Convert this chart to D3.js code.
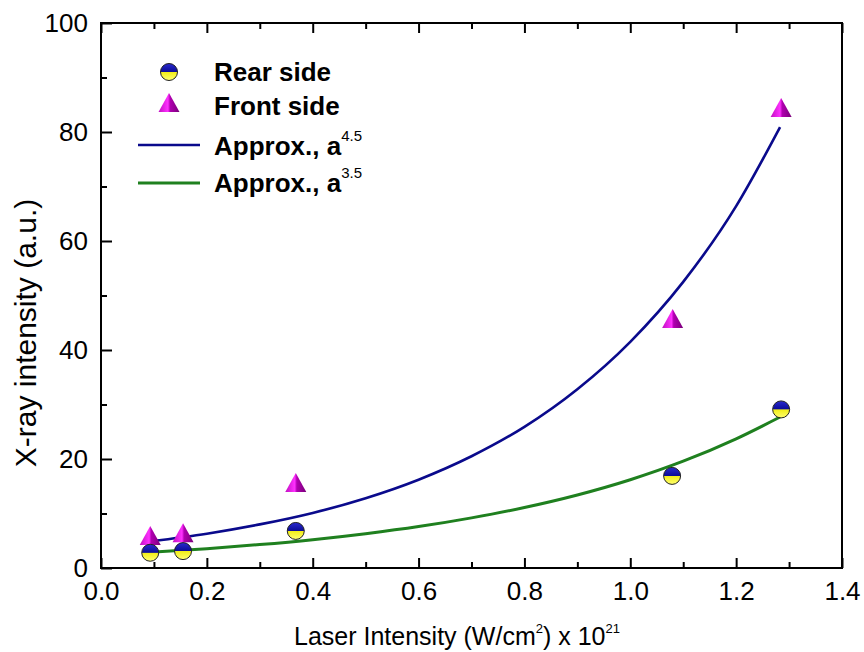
<!DOCTYPE html>
<html>
<head>
<meta charset="utf-8">
<script src="https://cdn.jsdelivr.net/npm/d3@7"></script>
<style>
  body { margin: 0; background: #fff; }
  svg { display: block; font-family: "Liberation Sans", Arial, sans-serif; }
  .tick text { font-size: 26px; fill: #000; }
  .tick line { stroke: #000; stroke-width: 2; }
</style>
</head>
<body>
<div id="chart"></div>
<script>
// measured points
const rearX = [0.093, 0.155, 0.368, 1.079, 1.285];
const rearY = [2.8, 3.1, 6.8, 16.9, 29.1];
const frontX = [0.093, 0.155, 0.368, 1.080, 1.285];
const frontY = [5.7, 6.2, 15.4, 45.5, 84.2];

// fitted curves
const fit45X = [0.093, 0.2, 0.3, 0.4, 0.5, 0.6, 0.7, 0.8, 0.9, 1.0, 1.1, 1.2, 1.283];
const fit45Y = [4.9, 6.3, 8.0, 10.1, 12.8, 16.2, 20.5, 25.9, 32.8, 41.5, 52.5, 66.4, 80.9];
const fit35X = [0.093, 0.2, 0.3, 0.4, 0.5, 0.6, 0.7, 0.8, 0.9, 1.0, 1.1, 1.2, 1.283];
const fit35Y = [2.9, 3.55, 4.3, 5.2, 6.3, 7.6, 9.2, 11.1, 13.4, 16.2, 19.6, 23.7, 27.7];

const xTicks = [0, 0.2, 0.4, 0.6, 0.8, 1.0, 1.2, 1.4];
const xMinor = [0.1, 0.3, 0.5, 0.7, 0.9, 1.1, 1.3];
const yTicks = [0, 20, 40, 60, 80, 100];
const yMinor = [10, 30, 50, 70, 90];

const W = 864, H = 652;
const margin = {top: 23, right: 22, bottom: 84, left: 101};
const w = W - margin.left - margin.right;
const h = H - margin.top - margin.bottom;

const svg = d3.select("#chart").append("svg")
  .attr("width", W)
  .attr("height", H);

const defs = svg.append("defs");
let gc = defs.append("linearGradient").attr("id", "halfball")
  .attr("x1", 0).attr("y1", 0).attr("x2", 0).attr("y2", 1);
gc.append("stop").attr("offset", "0%").attr("stop-color", "#2a2ad0");
gc.append("stop").attr("offset", "48%").attr("stop-color", "#0c0c98");
gc.append("stop").attr("offset", "52%").attr("stop-color", "#f2ee1a");
gc.append("stop").attr("offset", "100%").attr("stop-color", "#ffff70");

let gt = defs.append("linearGradient").attr("id", "pyramid")
  .attr("x1", 0).attr("y1", 0).attr("x2", 1).attr("y2", 0);
gt.append("stop").attr("offset", "0%").attr("stop-color", "#c010c0");
gt.append("stop").attr("offset", "45%").attr("stop-color", "#ff30ff");
gt.append("stop").attr("offset", "55%").attr("stop-color", "#b000b0");
gt.append("stop").attr("offset", "100%").attr("stop-color", "#7a007a");

const g = svg.append("g").attr("transform", `translate(${margin.left},${margin.top})`);

const x = d3.scaleLinear().domain([0, 1.4]).range([0, w]);
const y = d3.scaleLinear().domain([0, 100]).range([h, 0]);

//--------------------------------------------------
// axes, ticks point inward
//--------------------------------------------------
g.append("g").attr("transform", `translate(0,${h})`)
  .call(d3.axisBottom(x).tickValues(xTicks).tickFormat(d3.format(".1f")).tickSize(-10).tickPadding(14))
  .call(a => a.select(".domain").remove());
g.append("g").attr("transform", `translate(0,${h})`)
  .call(d3.axisBottom(x).tickValues(xMinor).tickFormat("").tickSize(-6))
  .call(a => a.select(".domain").remove());
g.append("g")
  .call(d3.axisTop(x).tickValues(xTicks).tickFormat("").tickSize(-10))
  .call(a => a.select(".domain").remove());
g.append("g")
  .call(d3.axisTop(x).tickValues(xMinor).tickFormat("").tickSize(-6))
  .call(a => a.select(".domain").remove());
g.append("g")
  .call(d3.axisLeft(y).tickValues(yTicks).tickSize(-11).tickPadding(13))
  .call(a => a.select(".domain").remove());
g.append("g")
  .call(d3.axisLeft(y).tickValues(yMinor).tickFormat("").tickSize(-6))
  .call(a => a.select(".domain").remove());

g.append("rect")
  .attr("width", w).attr("height", h)
  .attr("fill", "none").attr("stroke", "#000").attr("stroke-width", 2);

//--------------------------------------------------
// fit curves
//--------------------------------------------------
const line = d3.line().x(d => x(d[0])).y(d => y(d[1])).curve(d3.curveMonotoneX);
g.append("path").datum(d3.zip(fit45X, fit45Y))
  .attr("d", line).attr("fill", "none").attr("stroke", "#0a0a8c").attr("stroke-width", 2.6);
g.append("path").datum(d3.zip(fit35X, fit35Y))
  .attr("d", line).attr("fill", "none").attr("stroke", "#1f801f").attr("stroke-width", 3);

//--------------------------------------------------
// markers
//--------------------------------------------------
const triPath = "M0,-11L10.5,8L-10.5,8Z";
function drawBall(sel) {
  sel.attr("r", 8.5).attr("fill", "url(#halfball)").attr("stroke", "#222").attr("stroke-width", 1);
}
function drawTri(sel) {
  sel.attr("d", triPath).attr("fill", "url(#pyramid)");
}

g.selectAll(".front").data(d3.zip(frontX, frontY)).enter()
  .append("path").attr("class", "front")
  .attr("transform", d => `translate(${x(d[0])},${y(d[1])})`)
  .call(drawTri);
g.selectAll(".rear").data(d3.zip(rearX, rearY)).enter()
  .append("circle").attr("class", "rear")
  .attr("cx", d => x(d[0])).attr("cy", d => y(d[1]))
  .call(drawBall);

//--------------------------------------------------
// legend
//--------------------------------------------------
const leg = svg.append("g").attr("font-weight", "bold").attr("font-size", 26);
leg.append("circle").attr("cx", 169).attr("cy", 72).call(drawBall);
leg.append("text").attr("x", 214).attr("y", 72).attr("dy", "0.36em").text("Rear side");
leg.append("path").attr("transform", "translate(169,104)").call(drawTri);
leg.append("text").attr("x", 214).attr("y", 106).attr("dy", "0.36em").text("Front side");
leg.append("line").attr("x1", 138).attr("x2", 200).attr("y1", 145).attr("y2", 145)
  .attr("stroke", "#0a0a8c").attr("stroke-width", 2.6);
let t1 = leg.append("text").attr("x", 214).attr("y", 146).attr("dy", "0.36em").text("Approx., a");
t1.append("tspan").attr("font-size", 15).attr("font-weight", "normal").attr("dy", "-0.95em").text("4.5");
leg.append("line").attr("x1", 138).attr("x2", 200).attr("y1", 183).attr("y2", 183)
  .attr("stroke", "#1f801f").attr("stroke-width", 3);
let t2 = leg.append("text").attr("x", 214).attr("y", 183).attr("dy", "0.36em").text("Approx., a");
t2.append("tspan").attr("font-size", 15).attr("font-weight", "normal").attr("dy", "-0.95em").text("3.5");

//--------------------------------------------------
// axis titles
//--------------------------------------------------
let xt = svg.append("text").attr("x", 457).attr("y", 645)
  .attr("text-anchor", "middle").attr("font-size", 25).text("Laser Intensity (W/cm");
xt.append("tspan").attr("font-size", 13).attr("dy", "-0.9em").text("2");
xt.append("tspan").attr("dy", "0.47em").text(") x 10");
xt.append("tspan").attr("font-size", 13).attr("dy", "-0.9em").text("21");

svg.append("text")
  .attr("transform", "translate(36,333) rotate(-90)")
  .attr("text-anchor", "middle").attr("font-size", 30)
  .text("X-ray intensity (a.u.)");
</script>
</body>
</html>
